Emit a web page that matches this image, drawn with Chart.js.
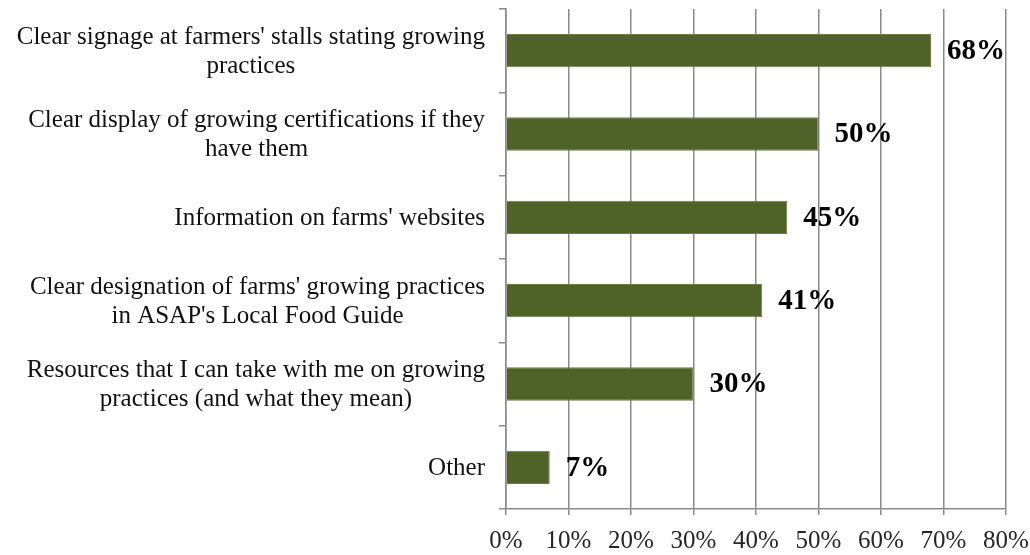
<!DOCTYPE html>
<html>
<head>
<meta charset="utf-8">
<script src="https://cdn.jsdelivr.net/npm/chart.js@4/dist/chart.umd.min.js"></script>
<style>
  html, body { margin: 0; padding: 0; background: #ffffff; }
  #wrap { width: 1030px; height: 555px; position: relative; }
</style>
</head>
<body>
<div id="wrap"><canvas id="chart"></canvas></div>
<script>
// Data
const categories = [
    ["Clear signage at farmers' stalls stating growing", "practices"],
    ["Clear display of growing certifications if they", "have them"],
    ["Information on farms' websites"],
    ["Clear designation of farms' growing practices", "in ASAP's Local Food Guide"],
    ["Resources that I can take with me on growing", "practices (and what they mean)"],
    ["Other"],
];
const shares = [68, 50, 45, 41, 30, 7];
const axisMax = 80;
const axisStep = 10;

const SERIF = "'Liberation Serif', 'DejaVu Serif', serif";
const GRID = '#8a8a8a';

/* ── Category labels: block right-aligned, lines centred ─────────────── */
const categoryLabels = {
    id: 'categoryLabels',
    afterDraw(chart) {
        const { ctx } = chart;
        const y = chart.scales.y;
        const right = 485;
        const lineH = 29;
        ctx.save();
        ctx.font = `25px ${SERIF}`;
        ctx.fillStyle = '#111111';
        ctx.textAlign = 'center';
        ctx.textBaseline = 'middle';
        categories.forEach((lines, i) => {
            const widest = Math.max(...lines.map(l => ctx.measureText(l).width));
            const cx = right - widest / 2;
            const cy = y.getPixelForValue(i);
            const top = cy - (lines.length - 1) * lineH / 2;
            lines.forEach((l, k) => ctx.fillText(l, cx, top + k * lineH + 1));
        });
        ctx.restore();
    },
};

/* ── Value labels at bar ends ────────────────────────────────────────── */
const valueLabels = {
    id: 'valueLabels',
    afterDatasetsDraw(chart) {
        const { ctx } = chart;
        const meta = chart.getDatasetMeta(0);
        ctx.save();
        ctx.font = `bold 29px ${SERIF}`;
        ctx.fillStyle = '#000000';
        ctx.textAlign = 'left';
        ctx.textBaseline = 'middle';
        meta.data.forEach((bar, i) => {
            ctx.fillText(shares[i] + '%', bar.x + 16, bar.y + 1);
        });
        ctx.restore();
    },
};

new Chart(document.getElementById('chart'), {
    type: 'bar',
    data: {
        labels: categories,
        datasets: [{
            data: shares,
            backgroundColor: '#4f6228',
            borderColor: '#6b7d45',
            borderWidth: 1,
            borderSkipped: 'left',
            categoryPercentage: 1,
            barPercentage: 0.4,
        }],
    },
    options: {
        indexAxis: 'y',
        responsive: true,
        maintainAspectRatio: false,
        animation: false,
        layout: { padding: { top: 9, right: 24, left: 0, bottom: 0 } },
        scales: {
            x: {
                min: 0,
                max: axisMax,
                afterFit(scale) {
                    scale.height = 46;
                    scale.paddingLeft = 0;
                    scale.paddingRight = 0;
                },
                grid: {
                    color: GRID,
                    lineWidth: 1.5,
                    tickLength: 6,
                },
                border: { color: GRID, width: 1.5 },
                ticks: {
                    stepSize: axisStep,
                    padding: 11,
                    color: '#262626',
                    font: { family: SERIF, size: 25 },
                    callback: v => v + '%',
                },
            },
            y: {
                afterFit(scale) { scale.width = 506; },
                grid: {
                    drawOnChartArea: false,
                    color: GRID,
                    lineWidth: 1.5,
                    tickLength: 7,
                },
                border: { color: GRID, width: 1.5 },
                ticks: { display: false },
            },
        },
        plugins: {
            legend: { display: false },
            tooltip: { enabled: false },
        },
    },
    plugins: [categoryLabels, valueLabels],
});
</script>
</body>
</html>
